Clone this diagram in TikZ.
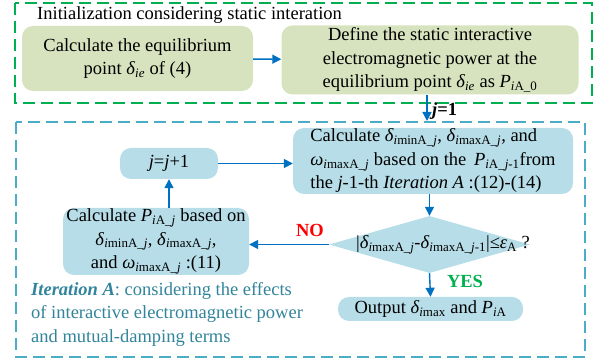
\documentclass[tikz,border=0pt]{standalone}
\usepackage{fontspec}
\setmainfont{Liberation Serif}
\usetikzlibrary{arrows.meta,shapes.geometric}

\definecolor{boxgreen}{RGB}{215,227,190}
\definecolor{boxblue}{RGB}{183,222,232}
\definecolor{arrblue}{RGB}{0,112,192}
\definecolor{dashgreen}{RGB}{0,176,80}
\definecolor{dashblue}{RGB}{75,172,198}
\definecolor{txtteal}{RGB}{49,132,155}

\newcommand{\sbs}[1]{\textsubscript{#1}}
\newcommand{\ti}[1]{\textit{#1}}

\tikzset{
  txt/.style={font=\fontsize{18.5}{23.5}\selectfont, inner sep=0pt},
  gbox/.style={txt, fill=boxgreen, rounded corners=11pt, align=center},
  bbox/.style={txt, fill=boxblue, rounded corners=11pt, align=center},
  flow/.style={arrblue, line width=1.4pt, -{Triangle[width=9pt,length=9pt]}},
  frame/.style={line width=1.6pt, dash pattern=on 12pt off 6pt}
}

\begin{document}
\begin{tikzpicture}[x=1pt,y=1pt]
    \useasboundingbox (0,0) rectangle (597,364);

    % initialization part
    \draw[frame, dashgreen] (15,361) rectangle (592,261);
    \node[txt, anchor=west] (init) at (37,349) {Initialization considering static interation};
    \node[gbox, minimum width=231pt, minimum height=65pt] (calceq) at (137.5,305.5)
        {Calculate the equilibrium\\point \ti{δ}\sbs{\ti{ie}} of (4)};
    \node[gbox, minimum width=297pt, minimum height=69pt] (defpow) at (430,304)
        {Define the static interactive\\electromagnetic power at the\\equilibrium point \ti{δ}\sbs{\ti{ie}} as \ti{P}\sbs{\ti{i}A\_0}};
    \draw[flow] (calceq) -- (defpow);

    % iteration A
    \draw[frame, dashblue] (16,242) rectangle (585,7);
    \coordinate (start) at (427,243);
    \draw[flow] (defpow.south -| start) -- (start);
    \node[txt, anchor=west] (jone) at (432,253) {\textbf{\ti{j}=1}};

    \node[bbox, minimum width=280pt, minimum height=66pt, align=left] (calcdelta) at (433,203)
        {Calculate \ti{δ}\sbs{\ti{i}minA\_\ti{j}}, \ti{δ}\sbs{\ti{i}maxA\_\ti{j}}, and\\
         \ti{ω}\sbs{\ti{i}maxA\_\ti{j}} based on the \,\ti{P}\sbs{\ti{i}A\_\ti{j}-1}from\\
         the \ti{j}-1-th \ti{Iteration A} :(12)-(14)};
    \node[bbox, minimum width=98pt, minimum height=31pt] (incj) at (169,200.5) {\ti{j}=\ti{j}+1};
    \node[bbox, minimum width=186pt, minimum height=67pt] (calcp) at (156,122.5)
        {Calculate \ti{P}\sbs{\ti{i}A\_\ti{j}} based on\\
         \ti{δ}\sbs{\ti{i}minA\_\ti{j}}, \ti{δ}\sbs{\ti{i}maxA\_\ti{j}},\\
         and \ti{ω}\sbs{\ti{i}maxA\_\ti{j}} :(11)};
    \node[diamond, fill=boxblue, inner sep=0pt, minimum width=201pt, minimum height=57pt] (check) at (429.5,119.5) {};
    \node[txt] (checktxt) at (443,119)
        {|\ti{δ}\sbs{\ti{i}maxA\_\ti{j}}-\ti{δ}\sbs{\ti{i}maxA\_\ti{j}-1}|≤\ti{ε}\sbs{A} ?};
    \node[bbox, minimum width=185pt, minimum height=24pt] (output) at (430.5,55)
        {Output \ti{δ}\sbs{\ti{i}max} and \ti{P}\sbs{\ti{i}A}};

    \draw[flow] (incj.east) -- (incj.east -| calcdelta.west);
    \draw[flow] (check.north |- calcdelta.south) -- (check.north);
    \draw[flow] (check.west) -- (check.west -| calcp.east);
    \draw[flow] (incj.south |- calcp.north) -- (incj.south);
    \draw[flow] (check.south) -- (output.north);

    \node[txt, red] (no) at (310,134) {\textbf{NO}};
    \node[txt, dashgreen] (yes) at (465,83) {\textbf{YES}};

    \node[txt, txtteal, anchor=north west, align=left] (note) at (31,82)
        {\textbf{\textit{Iteration A}}: considering the effects\\
         of interactive electromagnetic power\\
         and mutual-damping terms};
\end{tikzpicture}
\end{document}
